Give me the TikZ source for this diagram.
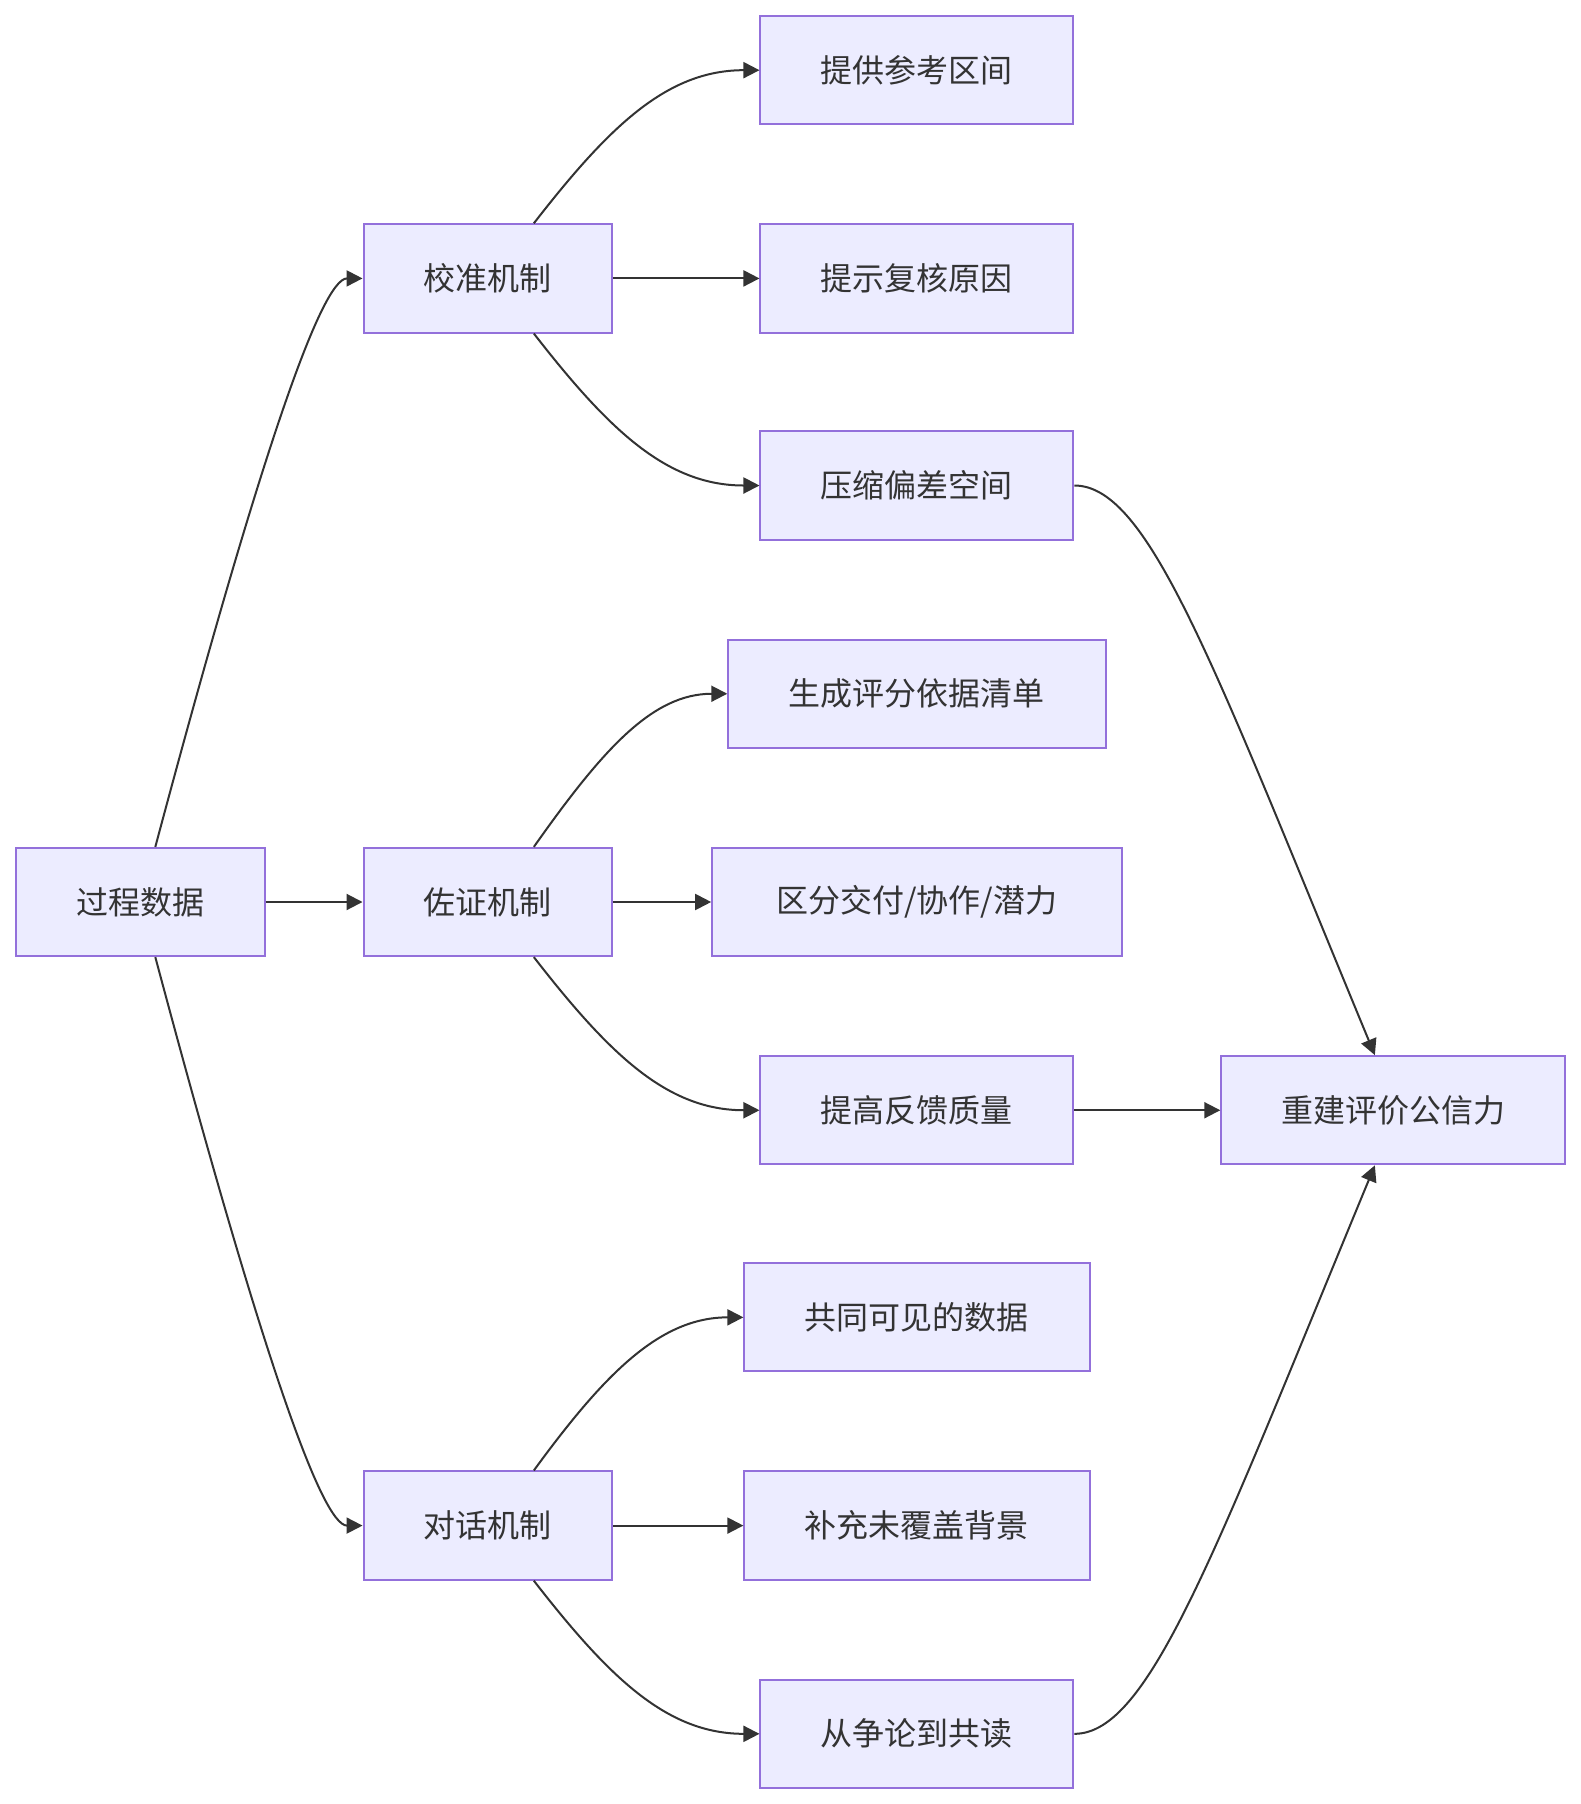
\documentclass[tikz,border=0pt]{standalone}
\usepackage{fontspec}
\setmainfont{Noto Sans CJK SC}
\usepackage{xcolor}
\usetikzlibrary{arrows.meta, positioning}
\definecolor{mmfill}{HTML}{ECECFF}
\definecolor{mmborder}{HTML}{9370DB}
\definecolor{mmline}{HTML}{333333}

\begin{document}
\begin{tikzpicture}[
    x=0.5753pt, y=-0.5753pt,
    box/.style={rectangle, draw=mmborder, fill=mmfill, line width=1pt,
                minimum height=54.1pt, font=\fontsize{16pt}{19pt}\selectfont,
                text=mmline, inner sep=0pt},
    mech/.style={box, minimum width=124.3pt},
    effect/.style={box, minimum width=156.5pt},
    arrow/.style={-{Triangle[length=8pt, width=8pt]}, draw=mmline,
                  line width=1pt}
]
\useasboundingbox (0,0) rectangle (1374,1568);

% Source
\node[mech] at (122,784) (data) {过程数据};

% Mechanisms
\node[mech] at (424,242) (calib) {校准机制};
\node[mech] at (424,784) (evid) {佐证机制};
\node[mech] at (424,1326) (dialog) {对话机制};

% Effects
\node[effect] at (797,61) (range) {提供参考区间};
\node[effect] at (797,242) (reason) {提示复核原因};
\node[effect] at (797,422) (bias) {压缩偏差空间};
\node[box, minimum width=188.7pt] at (797,603) (list) {生成评分依据清单};
\node[box, minimum width=204.8pt] at (797,784) (split) {区分交付/协作/潜力};
\node[effect] at (797,965) (feedback) {提高反馈质量};
\node[box, minimum width=172.6pt] at (797,1145) (visible) {共同可见的数据};
\node[box, minimum width=172.6pt] at (797,1326) (context) {补充未覆盖背景};
\node[effect] at (797,1507) (coread) {从争论到共读};

% Goal
\node[box, minimum width=172pt] at (1211,965) (trust) {重建评价公信力};

% Arrows
\draw[arrow] ([shift={(13,0)}]data.north) .. controls +(90,-337) and +(-36,0) .. (calib.west);
\draw[arrow] (data.east) -- (evid.west);
\draw[arrow] ([shift={(13,0)}]data.south) .. controls +(90,337) and +(-36,0) .. (dialog.west);

\draw[arrow] ([shift={(40,0)}]calib.north) .. controls +(66,-85) and +(-80,0) .. (range.west);
\draw[arrow] (calib.east) -- (reason.west);
\draw[arrow] ([shift={(40,0)}]calib.south) .. controls +(66,85) and +(-80,0) .. (bias.west);

\draw[arrow] ([shift={(40,0)}]evid.north) .. controls +(60,-85) and +(-65,0) .. (list.west);
\draw[arrow] (evid.east) -- (split.west);
\draw[arrow] ([shift={(40,0)}]evid.south) .. controls +(66,85) and +(-80,0) .. (feedback.west);

\draw[arrow] ([shift={(40,0)}]dialog.north) .. controls +(62,-85) and +(-72,0) .. (visible.west);
\draw[arrow] (dialog.east) -- (context.west);
\draw[arrow] ([shift={(40,0)}]dialog.south) .. controls +(66,85) and +(-80,0) .. (coread.west);

\draw[arrow] (bias.east) .. controls +(65,0) and +(-140,-338) .. ([shift={(-16,0)}]trust.north);
\draw[arrow] (feedback.east) -- (trust.west);
\draw[arrow] (coread.east) .. controls +(65,0) and +(-140,338) .. ([shift={(-16,0)}]trust.south);

\end{tikzpicture}
\end{document}
